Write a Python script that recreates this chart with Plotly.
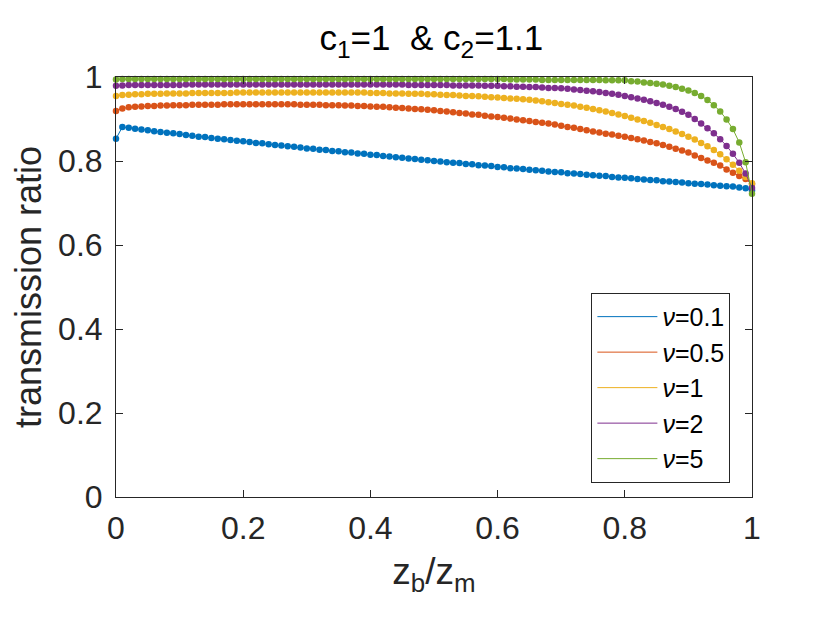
import numpy as np
import plotly.graph_objects as go

# x grid: z_b / z_m
z = np.round(np.arange(101) * 0.01, 2)

nu_labels = ["<i>ν</i>=0.1", "<i>ν</i>=0.5", "<i>ν</i>=1", "<i>ν</i>=2", "<i>ν</i>=5"]

nu_01 = [0.853, 0.881, 0.879, 0.877, 0.875, 0.873, 0.871, 0.869, 0.867, 0.866,
         0.864, 0.862, 0.860, 0.858, 0.857, 0.855, 0.853, 0.852, 0.850, 0.848,
         0.847, 0.845, 0.843, 0.842, 0.840, 0.838, 0.837, 0.835, 0.834, 0.832,
         0.830, 0.829, 0.827, 0.826, 0.824, 0.823, 0.821, 0.820, 0.818, 0.817,
         0.815, 0.814, 0.812, 0.811, 0.809, 0.808, 0.806, 0.805, 0.803, 0.802,
         0.800, 0.799, 0.797, 0.796, 0.795, 0.793, 0.792, 0.790, 0.789, 0.788,
         0.786, 0.785, 0.783, 0.782, 0.781, 0.779, 0.778, 0.777, 0.775, 0.774,
         0.773, 0.771, 0.770, 0.769, 0.767, 0.766, 0.765, 0.764, 0.762, 0.761,
         0.760, 0.759, 0.757, 0.756, 0.755, 0.754, 0.752, 0.751, 0.750, 0.749,
         0.747, 0.746, 0.745, 0.744, 0.742, 0.741, 0.740, 0.739, 0.737, 0.735,
         0.730]

nu_05 = [0.919, 0.925, 0.928, 0.929, 0.930, 0.931, 0.931, 0.932, 0.932, 0.933,
         0.933, 0.933, 0.934, 0.934, 0.934, 0.934, 0.934, 0.935, 0.935, 0.935,
         0.935, 0.935, 0.935, 0.935, 0.935, 0.935, 0.935, 0.935, 0.935, 0.934,
         0.934, 0.934, 0.934, 0.933, 0.933, 0.933, 0.932, 0.932, 0.931, 0.931,
         0.930, 0.929, 0.929, 0.928, 0.927, 0.926, 0.925, 0.924, 0.923, 0.922,
         0.921, 0.919, 0.918, 0.916, 0.914, 0.913, 0.911, 0.910, 0.908, 0.906,
         0.905, 0.903, 0.901, 0.899, 0.897, 0.895, 0.893, 0.891, 0.889, 0.887,
         0.884, 0.881, 0.879, 0.876, 0.873, 0.870, 0.868, 0.865, 0.863, 0.860,
         0.858, 0.855, 0.852, 0.849, 0.845, 0.842, 0.838, 0.834, 0.829, 0.825,
         0.820, 0.813, 0.807, 0.801, 0.796, 0.789, 0.780, 0.772, 0.764, 0.757,
         0.745]

nu_1 = [0.955, 0.957, 0.958, 0.959, 0.959, 0.960, 0.960, 0.960, 0.961, 0.961,
        0.961, 0.961, 0.962, 0.962, 0.962, 0.962, 0.962, 0.962, 0.962, 0.963,
        0.963, 0.963, 0.963, 0.963, 0.963, 0.963, 0.963, 0.963, 0.963, 0.963,
        0.963, 0.963, 0.963, 0.963, 0.963, 0.963, 0.963, 0.963, 0.963, 0.963,
        0.962, 0.962, 0.962, 0.961, 0.961, 0.961, 0.960, 0.960, 0.960, 0.959,
        0.959, 0.958, 0.957, 0.957, 0.956, 0.955, 0.955, 0.954, 0.953, 0.952,
        0.951, 0.950, 0.949, 0.948, 0.947, 0.946, 0.944, 0.942, 0.940, 0.938,
        0.936, 0.934, 0.932, 0.929, 0.927, 0.924, 0.921, 0.918, 0.914, 0.911,
        0.907, 0.903, 0.899, 0.895, 0.891, 0.886, 0.881, 0.876, 0.870, 0.864,
        0.858, 0.851, 0.843, 0.835, 0.826, 0.816, 0.804, 0.791, 0.777, 0.762,
        0.747]

nu_2 = [0.979, 0.980, 0.981, 0.981, 0.981, 0.981, 0.981, 0.981, 0.981, 0.981,
        0.981, 0.982, 0.982, 0.982, 0.982, 0.982, 0.982, 0.982, 0.982, 0.982,
        0.982, 0.982, 0.982, 0.982, 0.982, 0.982, 0.982, 0.982, 0.982, 0.982,
        0.982, 0.982, 0.982, 0.982, 0.982, 0.982, 0.982, 0.982, 0.982, 0.982,
        0.982, 0.982, 0.982, 0.982, 0.982, 0.982, 0.981, 0.981, 0.981, 0.981,
        0.981, 0.981, 0.981, 0.980, 0.980, 0.980, 0.980, 0.980, 0.979, 0.979,
        0.979, 0.978, 0.978, 0.977, 0.977, 0.976, 0.976, 0.975, 0.974, 0.974,
        0.973, 0.972, 0.970, 0.969, 0.967, 0.966, 0.964, 0.962, 0.960, 0.958,
        0.955, 0.952, 0.949, 0.946, 0.942, 0.938, 0.934, 0.929, 0.924, 0.917,
        0.910, 0.900, 0.889, 0.878, 0.866, 0.852, 0.836, 0.817, 0.796, 0.770,
        0.736]

nu_5 = [0.994, 0.995, 0.995, 0.995, 0.995, 0.995, 0.995, 0.995, 0.995, 0.995,
        0.995, 0.995, 0.995, 0.995, 0.995, 0.995, 0.995, 0.995, 0.995, 0.995,
        0.995, 0.995, 0.995, 0.995, 0.995, 0.995, 0.995, 0.995, 0.995, 0.995,
        0.995, 0.995, 0.995, 0.995, 0.995, 0.995, 0.995, 0.995, 0.995, 0.995,
        0.995, 0.995, 0.995, 0.995, 0.995, 0.995, 0.995, 0.995, 0.995, 0.995,
        0.995, 0.995, 0.995, 0.995, 0.995, 0.995, 0.995, 0.995, 0.995, 0.995,
        0.995, 0.995, 0.994, 0.994, 0.994, 0.994, 0.994, 0.993, 0.993, 0.993,
        0.993, 0.993, 0.993, 0.993, 0.993, 0.993, 0.993, 0.992, 0.992, 0.992,
        0.992, 0.990, 0.989, 0.987, 0.986, 0.984, 0.982, 0.979, 0.976, 0.972,
        0.968, 0.962, 0.955, 0.945, 0.933, 0.918, 0.899, 0.876, 0.844, 0.797,
        0.722]

x_tickvals = [0, 0.2, 0.4, 0.6, 0.8, 1]
x_ticktext = ["0", "0.2", "0.4", "0.6", "0.8", "1"]
y_tickvals = [0, 0.2, 0.4, 0.6, 0.8, 1]
y_ticktext = ["0", "0.2", "0.4", "0.6", "0.8", "1"]

series = [nu_01, nu_05, nu_1, nu_2, nu_5]
colors = ["#0072BD", "#D95319", "#EDB120", "#7E2F8E", "#77AC30"]

FONT = "Liberation Sans, Arial, Helvetica, sans-serif"
AX = "#262626"

fig = go.Figure()
for name, ys, col in zip(nu_labels, series, colors):
    fig.add_trace(go.Scatter(x=z, y=ys, mode="lines", name=name,
                             line=dict(color=col, width=1), legendgroup=name,
                             cliponaxis=False))
    fig.add_trace(go.Scatter(x=z, y=ys, mode="markers", showlegend=False,
                             marker=dict(color=col, size=6.5), legendgroup=name,
                             cliponaxis=False, hoverinfo="skip"))

axis_common = dict(range=[0, 1], showgrid=False, zeroline=False, showline=True,
                   linecolor=AX, linewidth=1, mirror="ticks", ticks="inside",
                   ticklen=7, tickcolor=AX, tickwidth=1,
                   tickfont=dict(family=FONT, size=32, color=AX))

# the page body has an 8px margin, so the figure is sized/offset accordingly
fig.update_layout(
    width=822, height=615,
    margin=dict(l=108, r=78, t=69, b=126),
    paper_bgcolor="white", plot_bgcolor="white",
    font=dict(family=FONT, color=AX),
    title=dict(text="c<sub>1</sub>=1 \u00a0& c<sub>2</sub>=1.1",
               x=0.515, xanchor="center", y=1 - 30 / 615, yanchor="middle",
               yref="container", font=dict(family=FONT, size=35, color="black")),
    xaxis=dict(**axis_common, tickvals=x_tickvals, ticktext=x_ticktext,
               ticklabelstandoff=3,
               title=dict(text="z<sub>b</sub>/z<sub>m</sub>", standoff=12,
                          font=dict(family=FONT, size=37, color=AX))),
    yaxis=dict(**axis_common, tickvals=y_tickvals, ticktext=y_ticktext,
               ticklabelstandoff=6,
               title=dict(text="transmission ratio", standoff=10,
                          font=dict(family=FONT, size=36, color=AX))),
    legend=dict(x=0.966, xanchor="right", y=0.486, yanchor="top",
                bgcolor="white", bordercolor=AX, borderwidth=1,
                font=dict(family=FONT, size=25, color="black"),
                itemwidth=60, tracegroupgap=0),
    showlegend=True,
)

fig.write_html("out.html")
